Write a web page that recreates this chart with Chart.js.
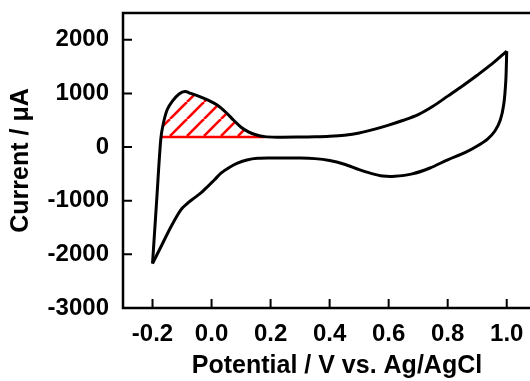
<!DOCTYPE html>
<html>
<head>
<meta charset="utf-8">
<script src="https://cdn.jsdelivr.net/npm/chart.js@4/dist/chart.umd.min.js"></script>
<style>
  html, body { margin: 0; padding: 0; background: #fff; overflow: hidden; }
  canvas { display: block; }
</style>
</head>
<body>
<canvas id="cv" width="552" height="381"></canvas>
<script>
// forward scan: -0.2 V -> 1.0 V (potential / V, current / uA)
const anodicX = [-0.2, -0.186, -0.172, -0.163, -0.15, -0.132, -0.11, -0.09, -0.07, -0.04, -0.01, 0.02, 0.05, 0.075, 0.1, 0.125, 0.15, 0.18, 0.22, 0.3, 0.35, 0.4, 0.45, 0.5, 0.55, 0.6, 0.65, 0.7, 0.75, 0.8, 0.85, 0.9, 0.95, 1.0];
const anodicY = [-2170, -1000, 150, 450, 700, 860, 990, 1035, 1000, 940, 870, 780, 640, 500, 370, 285, 230, 195, 185, 187, 192, 202, 222, 262, 330, 410, 500, 605, 760, 950, 1140, 1340, 1550, 1790];

// reverse scan: 1.0 V -> -0.2 V
const cathodicX = [1.0, 0.997, 0.99, 0.978, 0.96, 0.935, 0.9, 0.86, 0.8, 0.74, 0.68, 0.62, 0.58, 0.54, 0.5, 0.45, 0.4, 0.35, 0.3, 0.2, 0.156, 0.12, 0.088, 0.06, 0.032, 0.01, -0.013, -0.035, -0.059, -0.08, -0.104, -0.137, -0.171, -0.2];
const cathodicY = [1790, 1250, 800, 500, 300, 150, 20, -100, -237, -390, -500, -545, -540, -490, -420, -320, -250, -215, -205, -205, -210, -240, -300, -380, -485, -610, -734, -850, -951, -1040, -1169, -1480, -1853, -2170];

// hatched oxidation peak area, above the baseline
const baselineX = [-0.171, 0.18];
const baselineCurrent = 190;

const xTicks = [-0.2, 0.0, 0.2, 0.4, 0.6, 0.8, 1.0];
const yTicks = [-3000, -2000, -1000, 0, 1000, 2000];

const RED = '#ff0000';
const FONT = "'Liberation Sans', Arial, sans-serif";

function toPoints(xs, ys) {
  return xs.map((x, i) => ({ x: x, y: ys[i] }));
}

// points of the peak that lie above the baseline, closed on the baseline
function peakPoints() {
  const inside = toPoints(anodicX, anodicY).filter(p =>
    p.x > baselineX[0] && p.x < baselineX[1] && p.y > baselineCurrent);
  return [{ x: baselineX[0], y: baselineCurrent }, ...inside, { x: baselineX[1], y: baselineCurrent }];
}

// diagonal red hatch
function hatchPattern() {
  const s = 17;
  const c = document.createElement('canvas');
  c.width = s;
  c.height = s;
  const g = c.getContext('2d');
  g.strokeStyle = RED;
  g.lineWidth = 2.6;
  for (let k = -1; k <= 1; k++) {
    g.beginPath();
    g.moveTo(k * s, s);
    g.lineTo(k * s + s, 0);
    g.stroke();
  }
  return g.createPattern(c, 'repeat');
}

// box frame with inward tick marks
const framePlugin = {
  id: 'frame',
  afterDatasetsDraw(chart) {
    const { ctx, chartArea: a, scales: { x, y } } = chart;
    ctx.save();
    ctx.strokeStyle = '#000';
    ctx.lineWidth = 2;
    ctx.beginPath();
    xTicks.forEach(v => {
      const px = x.getPixelForValue(v);
      ctx.moveTo(px, a.bottom);
      ctx.lineTo(px, a.bottom - 9);
    });
    yTicks.forEach(v => {
      const py = y.getPixelForValue(v);
      ctx.moveTo(a.left, py);
      ctx.lineTo(a.left + 9, py);
    });
    ctx.stroke();
    ctx.lineWidth = 2.5;
    ctx.strokeRect(a.left, a.top, a.right - a.left, a.bottom - a.top);
    ctx.restore();
  }
};

new Chart(document.getElementById('cv'), {
  type: 'scatter',
  data: {
    datasets: [
      {
        label: 'forward',
        data: toPoints(anodicX, anodicY),
        showLine: true,
        borderColor: '#000',
        borderWidth: 3,
        pointRadius: 0,
        tension: 0.3,
        order: 0
      },
      {
        label: 'reverse',
        data: toPoints(cathodicX, cathodicY),
        showLine: true,
        borderColor: '#000',
        borderWidth: 3,
        pointRadius: 0,
        tension: 0.3,
        order: 0
      },
      {
        label: 'baseline',
        data: baselineX.map(x => ({ x: x, y: baselineCurrent })),
        showLine: true,
        borderColor: RED,
        borderWidth: 2.5,
        pointRadius: 0,
        order: 1
      },
      {
        label: 'peak area',
        data: peakPoints(),
        showLine: true,
        borderWidth: 0,
        borderColor: 'rgba(0,0,0,0)',
        backgroundColor: hatchPattern(),
        fill: { value: baselineCurrent },
        pointRadius: 0,
        tension: 0.3,
        order: 2
      }
    ]
  },
  options: {
    responsive: false,
    animation: false,
    devicePixelRatio: 1,
    layout: { padding: { top: 13, right: 1, left: 0, bottom: 0 } },
    plugins: {
      legend: { display: false },
      tooltip: { enabled: false }
    },
    scales: {
      x: {
        type: 'linear',
        min: -0.3,
        max: 1.15,
        grid: { display: false, drawTicks: false },
        border: { display: false },
        afterBuildTicks: scale => { scale.ticks = xTicks.map(v => ({ value: v })); },
        afterFit: scale => {
          scale.height = 73;
          scale.paddingLeft = 0;
          scale.paddingRight = 0;
        },
        ticks: {
          padding: 12,
          maxRotation: 0,
          autoSkip: false,
          color: '#000',
          font: { family: FONT, size: 24, weight: 'bold' },
          callback: v => v.toFixed(1)
        },
        title: {
          display: true,
          text: 'Potential / V vs. Ag/AgCl',
          color: '#000',
          padding: { top: 0, bottom: 0 },
          font: { family: FONT, size: 25, weight: 'bold' }
        }
      },
      y: {
        type: 'linear',
        min: -3000,
        max: 2500,
        grid: { display: false, drawTicks: false },
        border: { display: false },
        afterBuildTicks: scale => { scale.ticks = yTicks.map(v => ({ value: v })); },
        afterFit: scale => {
          scale.width = 123;
          scale.paddingTop = 0;
          scale.paddingBottom = 0;
        },
        ticks: {
          padding: 14,
          autoSkip: false,
          color: '#000',
          font: { family: FONT, size: 24, weight: 'bold' },
          callback: v => String(v)
        },
        title: {
          display: true,
          text: 'Current / μA',
          color: '#000',
          padding: { top: 6, bottom: 0 },
          font: { family: FONT, size: 25, weight: 'bold' }
        }
      }
    }
  },
  plugins: [framePlugin]
});
</script>
</body>
</html>
